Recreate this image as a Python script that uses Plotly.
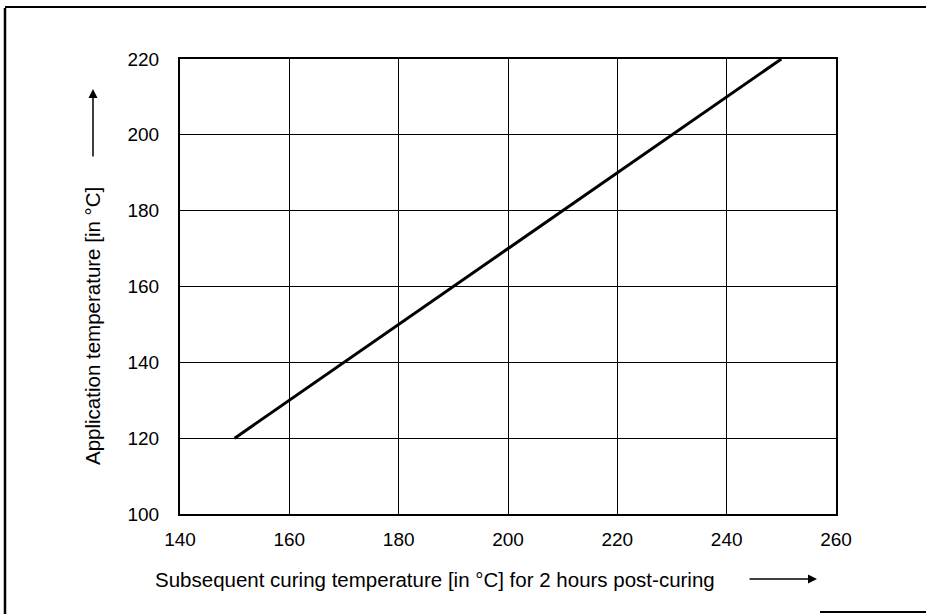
import plotly.graph_objects as go

# Data
curing_temp = [150, 250]          # Subsequent curing temperature [°C]
application_temp = [120, 220]     # Application temperature [°C]
x_ticks = [140, 160, 180, 200, 220, 240, 260]
y_ticks = [100, 120, 140, 160, 180, 200, 220]

W, H = 926, 614
L, R, T, B = 180, 836, 59, 514

def px(x):
    return (x - L) / (R - L)

def py(y):
    return (B - y) / (B - T)

FONT = "Liberation Sans, Arial, sans-serif"

fig = go.Figure()
fig.add_trace(go.Scatter(x=curing_temp, y=application_temp, mode="lines",
                         line=dict(color="black", width=3), showlegend=False,
                         hoverinfo="skip"))

axis_common = dict(showgrid=True, gridcolor="black", gridwidth=1.2,
                   showline=True, linecolor="black", linewidth=2, mirror=True,
                   ticks="", zeroline=False,
                   tickfont=dict(family=FONT, size=19, color="black"))

fig.update_xaxes(range=[140, 260], tickvals=x_ticks, ticktext=[str(v) for v in x_ticks],
                 ticklabelstandoff=7, **axis_common)
fig.update_yaxes(range=[100, 220], tickvals=y_ticks, ticktext=[str(v) for v in y_ticks],
                 ticklabelstandoff=15, **axis_common)

annotations = [
    dict(text="Application temperature [in °C]", textangle=-90, xref="paper", yref="paper",
         x=px(92), y=py(326), xanchor="center", yanchor="middle", showarrow=False,
         font=dict(family=FONT, size=20.5, color="black")),
    dict(text="Subsequent curing temperature [in °C] for 2 hours post-curing",
         xref="paper", yref="paper", x=px(153), y=py(579), xanchor="left", yanchor="middle",
         showarrow=False, font=dict(family=FONT, size=20.5, color="black")),
    dict(text="", xref="paper", yref="paper", x=px(93), y=py(89), ax=0, ay=69,
         showarrow=True, arrowhead=2, arrowsize=1.2, arrowwidth=1.5, arrowcolor="black"),
    dict(text="", xref="paper", yref="paper", x=px(817), y=py(579), ax=-69, ay=0,
         showarrow=True, arrowhead=2, arrowsize=1.2, arrowwidth=1.5, arrowcolor="black"),
]

shapes = [
    dict(type="line", xref="paper", yref="paper", x0=px(5), x1=px(5), y0=py(8), y1=py(614),
         line=dict(color="black", width=2.5)),
    dict(type="line", xref="paper", yref="paper", x0=px(5), x1=px(926), y0=py(7), y1=py(7),
         line=dict(color="black", width=2)),
    dict(type="line", xref="paper", yref="paper", x0=px(820), x1=px(926), y0=py(612), y1=py(612),
         line=dict(color="black", width=2)),
]

fig.update_layout(width=W, height=H, margin=dict(l=L, r=W - R, t=T, b=H - B),
                  paper_bgcolor="white", plot_bgcolor="white",
                  annotations=annotations, shapes=shapes, showlegend=False)

fig.write_html("out.html", config={"displayModeBar": False},
               post_script="document.body.style.margin='0';document.body.style.overflow='hidden';")
